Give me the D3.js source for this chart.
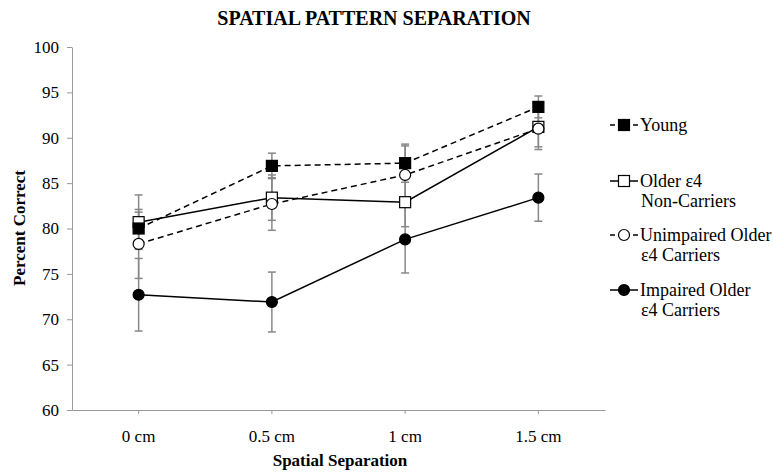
<!DOCTYPE html>
<html><head><meta charset="utf-8">
<script src="https://cdn.jsdelivr.net/npm/d3@7"></script>
<style>body{margin:0;background:#fff}svg{display:block}</style>
</head><body>
<svg id="c" width="773" height="473"></svg>
<script>
const categories = ["0 cm", "0.5 cm", "1 cm", "1.5 cm"];
const seriesNames = ["Young", "Older ε4 Non-Carriers", "Unimpaired Older ε4 Carriers", "Impaired Older ε4 Carriers"];
const young = [80.0, 86.9, 87.2, 93.4];
const youngErr = [1.8, 1.4, 2.1, 1.2];
const olderNC = [80.7, 83.4, 82.9, 91.2];
const olderNCErr = [3.0, 2.5, 2.7, 2.5];
const unimpaired = [78.3, 82.7, 85.9, 91.0];
const unimpairedErr = [3.8, 2.9, 3.2, 2.0];
const impaired = [72.7, 71.9, 78.8, 83.4];
const impairedErr = [4.0, 3.3, 3.7, 2.6];
const yTicks = [60, 65, 70, 75, 80, 85, 90, 95, 100];

const series = [
  {name: seriesNames[0], label: ["Young"], vals: young, err: youngErr, dash: "6,4", marker: "square", fill: "#000"},
  {name: seriesNames[1], label: ["Older ε4", "Non-Carriers"], vals: olderNC, err: olderNCErr, dash: null, marker: "square", fill: "#fff"},
  {name: seriesNames[2], label: ["Unimpaired Older", "ε4 Carriers"], vals: unimpaired, err: unimpairedErr, dash: "6,4", marker: "circle", fill: "#fff"},
  {name: seriesNames[3], label: ["Impaired Older", "ε4 Carriers"], vals: impaired, err: impairedErr, dash: null, marker: "circle", fill: "#000"}
];

const svg = d3.select("#c");
const font = "'Liberation Serif', 'Times New Roman', serif";
const L = 72, R = 605, T = 47, B = 410;
const x = d3.scaleBand().domain(categories).range([L, R]);
const y = d3.scaleLinear().domain([60, 100]).range([B, T]);
const cx = c => x(c) + x.bandwidth() / 2;

// title
svg.append("text").attr("x", 374).attr("y", 25).attr("text-anchor", "middle")
  .attr("font-family", font).attr("font-weight", "bold").attr("font-size", 20)
  .text("SPATIAL PATTERN SEPARATION");

// y axis
const yAxis = svg.append("g").attr("transform", `translate(${L},0)`)
  .call(d3.axisLeft(y).tickValues(yTicks).tickSize(5).tickSizeOuter(0).tickPadding(8));
yAxis.selectAll("path,line").attr("stroke", "#999");
yAxis.selectAll("text").attr("font-family", font).attr("font-size", 17).attr("fill", "#000");

// x axis
const xAxis = svg.append("g").attr("transform", `translate(0,${B})`)
  .call(d3.axisBottom(x).tickSize(4).tickSizeOuter(0).tickPadding(16));
xAxis.selectAll("path,line").attr("stroke", "#999");
xAxis.selectAll("text").attr("font-family", font).attr("font-size", 17).attr("fill", "#000");

svg.append("text").attr("x", 340).attr("y", 466).attr("text-anchor", "middle")
  .attr("font-family", font).attr("font-weight", "bold").attr("font-size", 17)
  .text("Spatial Separation");
svg.append("text").attr("transform", "translate(25,228) rotate(-90)").attr("text-anchor", "middle")
  .attr("font-family", font).attr("font-weight", "bold").attr("font-size", 17)
  .text("Percent Correct");

// error bars
const eg = svg.append("g");
series.forEach(s => {
  s.vals.forEach((v, i) => {
    const px = cx(categories[i]);
    const e = s.err[i];
    eg.append("line").attr("x1", px).attr("x2", px).attr("y1", y(v - e)).attr("y2", y(v + e))
      .attr("stroke", "#888").attr("stroke-width", 1.5);
    [v - e, v + e].forEach(t => eg.append("line").attr("x1", px - 4).attr("x2", px + 4)
      .attr("y1", y(t)).attr("y2", y(t)).attr("stroke", "#888").attr("stroke-width", 1.5));
  });
});

// lines
const line = d3.line().x((d, i) => cx(categories[i])).y(d => y(d));
series.forEach(s => {
  svg.append("path").datum(s.vals).attr("d", line).attr("fill", "none")
    .attr("stroke", "#000").attr("stroke-width", 1.5)
    .attr("stroke-dasharray", s.dash);
});

function marker(g, s, px, py) {
  if (s.marker === "square") {
    g.append("rect").attr("x", px - 5.5).attr("y", py - 5.5).attr("width", 11).attr("height", 11)
      .attr("fill", s.fill).attr("stroke", "#000").attr("stroke-width", 1.2);
  } else {
    g.append("circle").attr("cx", px).attr("cy", py).attr("r", 5.5)
      .attr("fill", s.fill).attr("stroke", "#000").attr("stroke-width", 1.2);
  }
}
const mg = svg.append("g");
[1, 0, 2, 3].forEach(k => {
  const s = series[k];
  s.vals.forEach((v, i) => marker(mg, s, cx(categories[i]), y(v)));
});

// legend
const legY = [125, 181, 235, 290];
const lg = svg.append("g");
series.forEach((s, k) => {
  const ly = legY[k];
  if (s.dash) {
    lg.append("line").attr("x1", 610).attr("x2", 615).attr("y1", ly).attr("y2", ly).attr("stroke", "#000").attr("stroke-width", 1.5);
    lg.append("line").attr("x1", 633).attr("x2", 638).attr("y1", ly).attr("y2", ly).attr("stroke", "#000").attr("stroke-width", 1.5);
  } else {
    lg.append("line").attr("x1", 610).attr("x2", 638).attr("y1", ly).attr("y2", ly).attr("stroke", "#000").attr("stroke-width", 1.5);
  }
  marker(lg, s, 624, ly);
  const t = lg.append("text").attr("x", 640).attr("y", ly + 6).attr("font-family", font).attr("font-size", 18);
  s.label.forEach((l, j) => t.append("tspan").attr("x", j ? 641 : 640).attr("dy", j ? 20 : 0).text(l));
});
</script>
</body></html>
